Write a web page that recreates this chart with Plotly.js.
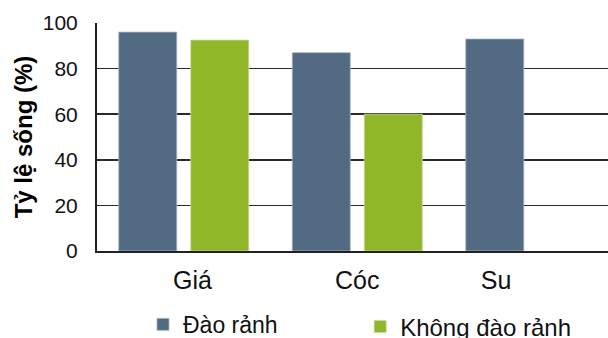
<!DOCTYPE html>
<html>
<head>
<meta charset="utf-8">
<script src="https://cdn.plot.ly/plotly-3.0.1.min.js"></script>
<style>
  html, body { margin: 0; padding: 0; background: #fff; overflow: hidden; }
  #chart { width: 608px; height: 338px; }
</style>
</head>
<body>
<div id="chart"></div>
<script>
// Survival rate (%) by species, with and without trenching
const categories = ['Giá', 'Cóc', 'Su'];
const daoRanh = [96, 87, 93];
const khongDaoRanh = [92.5, 60, null];
const seriesNames = ['Đào rảnh', 'Không đào rảnh'];
const yTicks = [0, 20, 40, 60, 80, 100];

// category slots on a numeric axis; label anchors sit slightly off-centre
const slots = categories.map((_, i) => i);
const labelAnchors = [0.05, 1, 1.8];

const FONT = 'Liberation Sans, Arial, sans-serif';

const traces = [
  {
    type: 'bar', x: slots, y: daoRanh, name: seriesNames[0],
    marker: { color: '#526b82', line: { color: '#a8b6c4', width: 0.8 } },
    legend: 'legend'
  },
  {
    type: 'bar', x: slots, y: khongDaoRanh, name: seriesNames[1],
    marker: { color: '#90b72a', line: { color: '#c8dc98', width: 0.8 } },
    legend: 'legend2'
  }
];

const layout = {
  width: 608, height: 338,
  margin: { l: 97, r: 0, t: 23, b: 87, autoexpand: false },
  paper_bgcolor: '#fff', plot_bgcolor: '#fff',
  barmode: 'group', bargap: 0.17, bargroupgap: 0.194,
  font: { family: FONT, color: '#000' },
  xaxis: {
    type: 'linear', range: [-0.5, 2.445],
    tickvals: labelAnchors, ticktext: categories,
    tickfont: { size: 25, color: '#111' },
    ticks: '', showgrid: false, zeroline: false,
    showline: true, linecolor: '#222', linewidth: 1.5,
    ticklabelstandoff: 6
  },
  yaxis: {
    range: [0, 100], tickvals: yTicks,
    tickfont: { size: 21, color: '#111' },
    showgrid: true, gridcolor: '#2a2a2a', gridwidth: 1.6,
    zeroline: false, showline: true, linecolor: '#222', linewidth: 2,
    ticks: '', ticklabelstandoff: 13,
    title: { text: 'Tỷ lệ sống (%)', font: { size: 24, family: FONT, weight: 'bold', color: '#000' }, standoff: 3 }
  },
  showlegend: true,
  legend: {
    orientation: 'h', x: 0.09, xanchor: 'left', y: -0.322, yanchor: 'middle',
    font: { size: 23, color: '#111' }, bgcolor: 'rgba(0,0,0,0)'
  },
  legend2: {
    orientation: 'h', x: 0.515, xanchor: 'left', y: -0.333, yanchor: 'middle',
    font: { size: 24, color: '#111' }, bgcolor: 'rgba(0,0,0,0)'
  }
};

Plotly.newPlot('chart', traces, layout, { staticPlot: true, displayModeBar: false });
</script>
</body>
</html>
